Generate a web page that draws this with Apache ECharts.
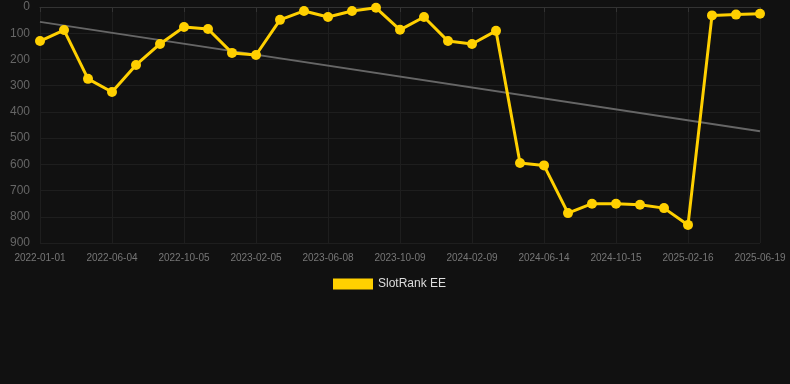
<!DOCTYPE html>
<html>
<head>
<meta charset="utf-8">
<script src="https://cdn.jsdelivr.net/npm/echarts@6/dist/echarts.min.js"></script>
<style>html,body{margin:0;padding:0;background:#111111;}#c{width:790px;height:384px;}</style>
</head>
<body>
<div id="c"></div>
<script>
const categories = ["2022-01-01","2022-02-21","2022-04-13","2022-06-04","2022-07-15","2022-08-25","2022-10-05","2022-11-15","2022-12-26","2023-02-05","2023-03-18","2023-04-28","2023-06-08","2023-07-19","2023-08-29","2023-10-09","2023-11-19","2023-12-30","2024-02-09","2024-03-21","2024-05-02","2024-06-14","2024-07-25","2024-09-04","2024-10-15","2024-11-25","2025-01-05","2025-02-16","2025-03-29","2025-05-09","2025-06-19"];
const rankValues = [130,88,274,324,221,141,76,84,175,183,49,15,38,15,3,87,38,130,141,91,595,604,786,750,750,754,767,831,32,29,26];
const yTicks = [0,100,200,300,400,500,600,700,800,900];
const seriesName = "SlotRank EE";

// least-squares trend line over the data
const n = rankValues.length;
let sx=0, sy=0, sxy=0, sxx=0;
rankValues.forEach((v,i)=>{sx+=i;sy+=v;sxy+=i*v;sxx+=i*i;});
const slope = (n*sxy - sx*sy)/(n*sxx - sx*sx);
const intercept = (sy - slope*sx)/n;
const trend = rankValues.map((v,i)=> (i===0||i===n-1) ? +(intercept+slope*i).toFixed(2) : null);

const chart = echarts.init(document.getElementById('c'), null, {renderer:'canvas'});
chart.setOption({
  backgroundColor:'#111111',
  animation:false,
  grid:{left:40,right:30,top:7,bottom:141},
  legend:{
    data:[{name:seriesName, icon:'rect'}],
    top:273, left:328,
    itemWidth:40, itemHeight:11,
    textStyle:{color:'#dddddd', fontSize:12, fontFamily:'Arial, Liberation Sans, sans-serif'}
  },
  xAxis:{
    type:'category', data:categories, boundaryGap:false,
    axisLine:{show:true, lineStyle:{color:'#333333'}},
    axisTick:{show:true, interval:2, lineStyle:{color:'#333333'}},
    axisLabel:{interval:2, color:'#777777', fontSize:10, margin:10, fontFamily:'Arial, Liberation Sans, sans-serif'},
    splitLine:{show:true, interval:2, lineStyle:{color:'#1e1e1e'}}
  },
  yAxis:{
    type:'value', inverse:true, min:yTicks[0], max:yTicks[yTicks.length-1], interval:100,
    axisLine:{show:false}, axisTick:{show:false},
    axisLabel:{color:'#666666', fontSize:12, margin:10, fontFamily:'Arial, Liberation Sans, sans-serif'},
    splitLine:{lineStyle:{color:'#1e1e1e'}}
  },
  series:[
    {
      name:seriesName, type:'line', data:rankValues,
      symbol:'circle', symbolSize:10,
      lineStyle:{color:'#FFD000', width:3},
      itemStyle:{color:'#FFD000'},
      z:3
    },
    {
      name:'trend', type:'line', data:trend, connectNulls:true,
      symbol:'none', lineStyle:{color:'#666666', width:2},
      z:2, silent:true
    }
  ]
});
</script>
</body>
</html>
